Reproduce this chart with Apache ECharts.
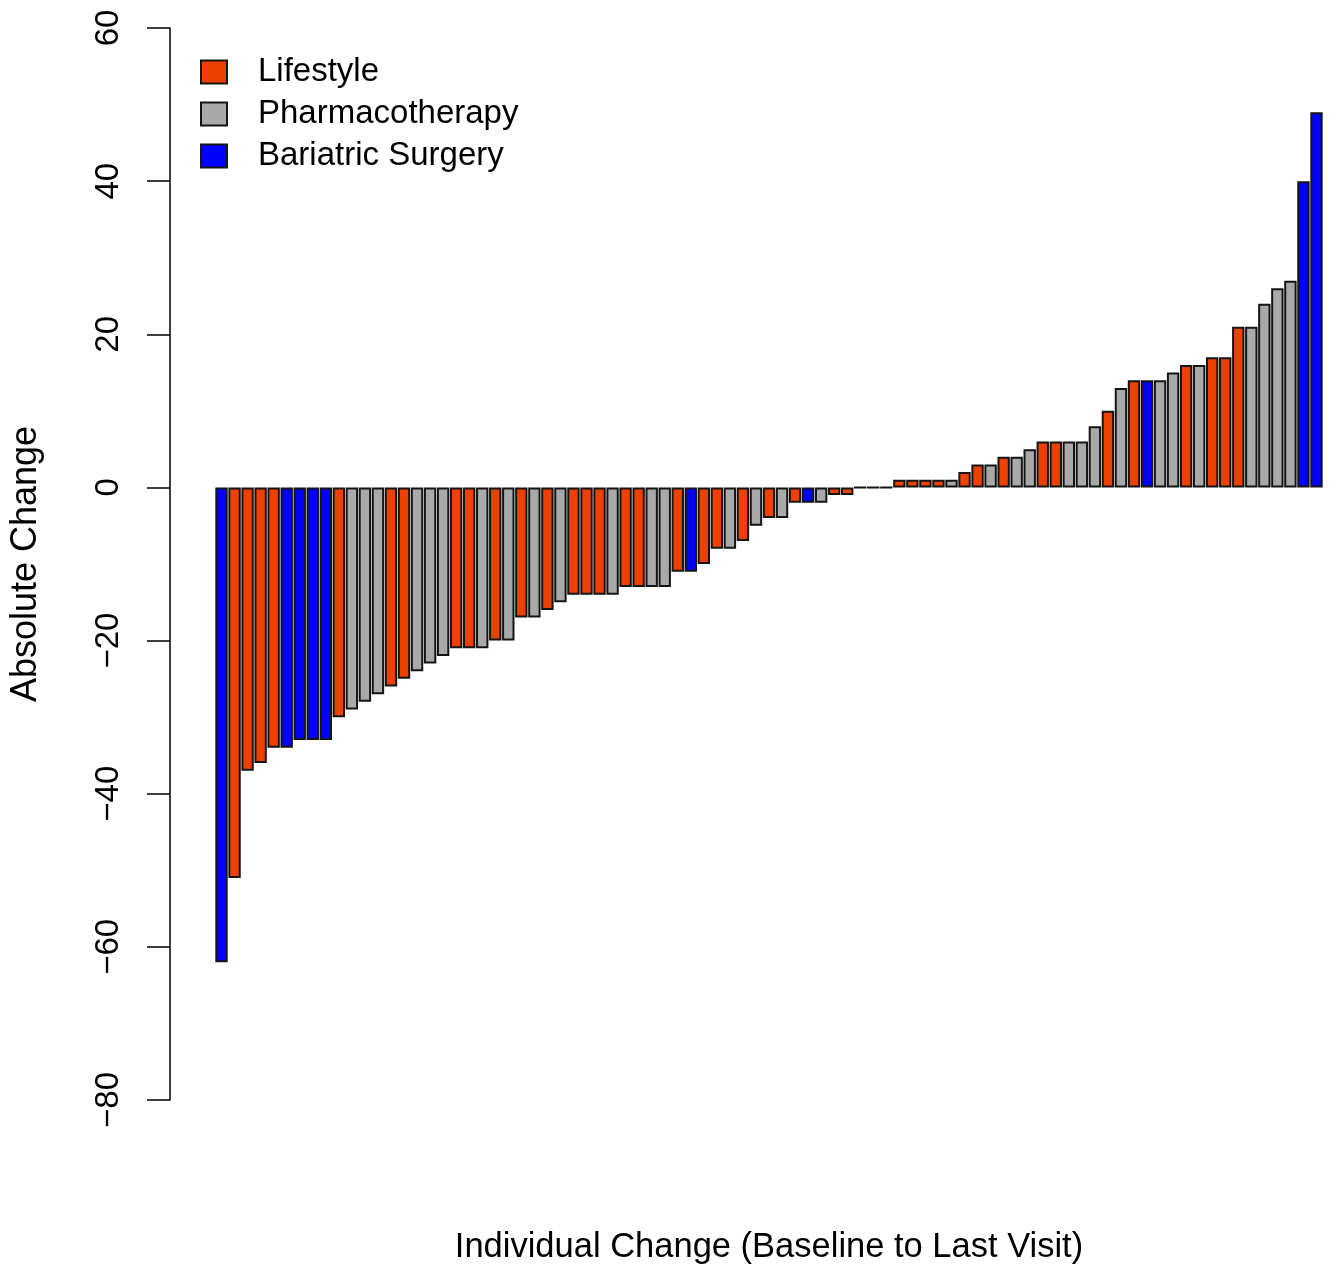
<!DOCTYPE html>
<html>
<head>
<meta charset="utf-8">
<style>
  html, body { margin: 0; padding: 0; background: #ffffff; }
  #chart { width: 1339px; height: 1273px; }
</style>
<script src="https://cdn.jsdelivr.net/npm/echarts@6/dist/echarts.min.js"></script>
</head>
<body>
<div id="chart"></div>
<script>
// Individual absolute change per participant, sorted ascending
const changes = [
  -62, -51, -37, -36, -34, -34, -33, -33, -33, -30,
  -29, -28, -27, -26, -25, -24, -23, -22, -21, -21,
  -21, -20, -20, -17, -17, -16, -15, -14, -14, -14,
  -14, -13, -13, -13, -13, -11, -11, -10, -8, -8,
  -7, -5, -4, -4, -2, -2, -2, -1, -1, 0,
  0, 0, 1, 1, 1, 1, 1, 2, 3, 3,
  4, 4, 5, 6, 6, 6, 6, 8, 10, 13,
  14, 14, 14, 15, 16, 16, 17, 17, 21, 21,
  24, 26, 27, 40, 49
];

// Treatment group of each participant (L = Lifestyle, P = Pharmacotherapy, B = Bariatric Surgery)
const groups = [
  'B', 'L', 'L', 'L', 'L', 'B', 'B', 'B', 'B', 'L',
  'P', 'P', 'P', 'L', 'L', 'P', 'P', 'P', 'L', 'L',
  'P', 'L', 'P', 'L', 'P', 'L', 'P', 'L', 'L', 'L',
  'P', 'L', 'L', 'P', 'P', 'L', 'B', 'L', 'L', 'P',
  'L', 'P', 'L', 'P', 'L', 'B', 'P', 'L', 'L', 'L',
  'L', 'L', 'L', 'L', 'L', 'L', 'P', 'L', 'L', 'P',
  'L', 'P', 'P', 'L', 'L', 'P', 'P', 'P', 'L', 'P',
  'L', 'B', 'P', 'P', 'L', 'P', 'L', 'L', 'L', 'P',
  'P', 'P', 'P', 'B', 'B'
];

const groupKeys = ['L', 'P', 'B'];
const groupNames = ['Lifestyle', 'Pharmacotherapy', 'Bariatric Surgery'];
const groupColors = ['#EE4000', '#A9A9A9', '#0000FF'];

const yTicks = [-80, -60, -40, -20, 0, 20, 40, 60];

const participants = changes.map((_, i) => String(i + 1));

const series = groupKeys.map((key, gi) => ({
  name: groupNames[gi],
  type: 'bar',
  stack: 'all',
  barCategoryGap: '5%',
  data: changes.map((v, i) => (groups[i] === key ? v : '-')),
  itemStyle: {
    color: groupColors[gi],
    borderColor: '#151515',
    borderWidth: 2
  },
  emphasis: { disabled: true },
  animation: false
}));

const chart = echarts.init(document.getElementById('chart'), null, { renderer: 'canvas' });

const fontFamily = '"Liberation Sans", Arial, Helvetica, sans-serif';

chart.setOption({
  animation: false,
  backgroundColor: '#ffffff',
  textStyle: { fontFamily: fontFamily, color: '#000000' },
  grid: {
    left: 211,
    top: 28,
    width: 1112,
    height: 1072,
    containLabel: false
  },
  legend: {
    orient: 'vertical',
    left: 195,
    top: 49,
    itemWidth: 26,
    itemHeight: 23,
    itemGap: 6,
    icon: 'rect',
    selectedMode: false,
    itemStyle: { borderColor: '#151515', borderWidth: 2 },
    textStyle: {
      fontFamily: fontFamily,
      fontSize: 33,
      color: '#000000',
      padding: [0, 0, 0, 26],
      lineHeight: 36
    },
    data: groupNames
  },
  xAxis: {
    type: 'category',
    data: participants,
    axisLine: { show: false },
    axisTick: { show: false },
    axisLabel: { show: false },
    splitLine: { show: false },
    name: 'Individual Change (Baseline to Last Visit)',
    nameLocation: 'middle',
    nameGap: 130,
    nameTextStyle: { fontFamily: fontFamily, fontSize: 34.5, color: '#000000' }
  },
  yAxis: {
    type: 'value',
    min: yTicks[0],
    max: yTicks[yTicks.length - 1],
    interval: 20,
    offset: 45,
    axisLine: { show: true, lineStyle: { color: '#000000', width: 1.5 } },
    axisTick: { show: true, length: 23, lineStyle: { color: '#000000', width: 1.5 } },
    axisLabel: {
      rotate: 90,
      margin: 45,
      fontFamily: fontFamily,
      fontSize: 33,
      color: '#000000',
      formatter: v => (v < 0 ? '\u2212' + Math.abs(v) : String(v))
    },
    splitLine: { show: false },
    name: 'Absolute Change',
    nameLocation: 'middle',
    nameRotate: 90,
    nameGap: 126,
    nameTextStyle: { fontFamily: fontFamily, fontSize: 36, color: '#000000' }
  },
  series: series
});
</script>
</body>
</html>
